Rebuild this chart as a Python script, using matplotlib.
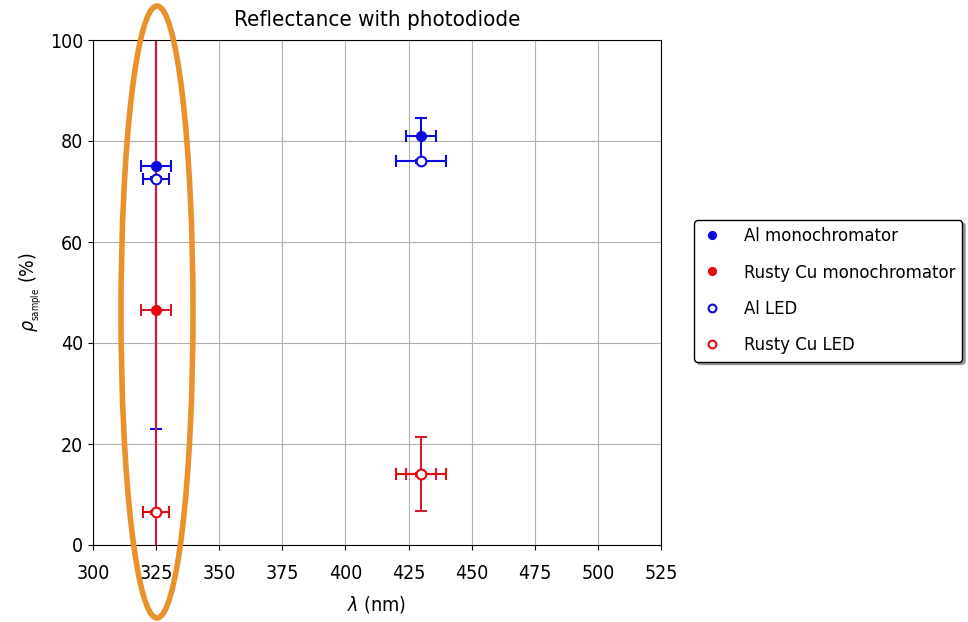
import matplotlib
matplotlib.use("Agg")
from matplotlib import pyplot as plt
from matplotlib.patches import Ellipse
import numpy as np

# data: wavelength (nm), reflectance (%), errors
al_mono_x = [325, 430]
al_mono_y = [75, 81]
al_mono_xerr = [6, 6]
al_mono_yerr_lo = [52, 5]
al_mono_yerr_hi = [52, 3.5]

cu_mono_x = [325, 430]
cu_mono_y = [46.5, 14]
cu_mono_xerr = [6, 6]
cu_mono_yerr = [62, 7.3]

al_led_x = [325, 430]
al_led_y = [72.5, 76]
al_led_xerr = [5, 10]
al_led_yerr = [0.3, 0.3]

cu_led_x = [325, 430]
cu_led_y = [6.5, 14]
cu_led_xerr = [5, 10]
cu_led_yerr = [0.3, 0.3]

plt.rcParams["font.stretch"] = "condensed"

fig = plt.figure(figsize=(9.68, 6.22), dpi=100)
ax = fig.add_axes([93/968, 77/622, 568/968, 505/622])

kw = dict(capsize=4, elinewidth=1.5, capthick=1.5, markersize=7, linestyle="none")
ax.errorbar(al_mono_x, al_mono_y, xerr=al_mono_xerr, yerr=[al_mono_yerr_lo, al_mono_yerr_hi],
            fmt="o", color="#0a0ae0", label="Al monochromator", **kw)
ax.errorbar(cu_mono_x, cu_mono_y, xerr=cu_mono_xerr, yerr=cu_mono_yerr, fmt="o",
            color="#e30b0b", ecolor="#d41a30", label="Rusty Cu monochromator", **kw)
ax.errorbar(al_led_x, al_led_y, xerr=al_led_xerr, yerr=al_led_yerr, fmt="o",
            color="#0a0ae0", mfc="white", mew=1.5, label="Al LED", **kw)
ax.errorbar(cu_led_x, cu_led_y, xerr=cu_led_xerr, yerr=cu_led_yerr, fmt="o",
            color="#e30b0b", mfc="white", mew=1.5, label="Rusty Cu LED", **kw)

ax.set_xlim(300, 525)
ax.set_ylim(0, 100)
ax.set_xticks(np.arange(300, 526, 25))
ax.set_yticks(np.arange(0, 101, 20))
ax.tick_params(labelsize=14)
ax.tick_params(axis="x", pad=10)
ax.grid(True, color="#b0b0b0")
ax.set_axisbelow(True)
ax.set_title("Reflectance with photodiode", fontsize=16, pad=10)
ax.set_xlabel(r"$\lambda$ (nm)", fontsize=14, labelpad=8)
ax.set_ylabel(r"$\rho_{_{\mathrm{sample}}}$ (%)", fontsize=14)

h, l = ax.get_legend_handles_labels()
h = [x[0] for x in h]
fig.legend(h, l, loc="upper left", bbox_to_anchor=(694/968, 1 - 220/622),
           borderaxespad=0, fontsize=13.2, shadow=True, edgecolor="black", framealpha=1,
           handlelength=1.2, handletextpad=1.1, markerscale=0.8, labelspacing=1.0)

# orange annotation ellipse
ell = Ellipse((157/968, 1 - 312/622), 72/968, 612/622, transform=fig.transFigure,
              fill=False, edgecolor="#e8912d", linewidth=4, clip_on=False)
fig.add_artist(ell)

fig.savefig("out.png", dpi=100)
